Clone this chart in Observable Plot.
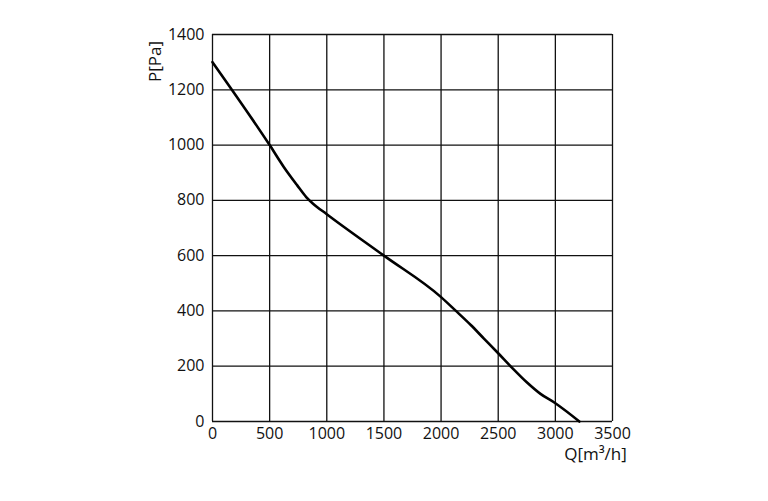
<!DOCTYPE html>
<html>
<head>
<meta charset="utf-8">
<script src="https://cdn.jsdelivr.net/npm/d3@7"></script>
<script src="https://cdn.jsdelivr.net/npm/@observablehq/plot@0.6"></script>
<style>
  html, body { margin: 0; padding: 0; background: #fff; }
  svg { display: block; }
</style>
</head>
<body>
<div id="chart"></div>
<script>
const flowQ = [0, 500, 625, 740, 820, 880, 1000, 1500, 2000, 2125, 2260, 2375, 2500, 2620, 2750, 2870, 3000, 3210];
const pressureP = [1300, 1000, 920, 855, 812, 788, 750, 600, 450, 402, 349, 300, 247, 195, 142, 100, 66, 0];
const xTicks = [0, 500, 1000, 1500, 2000, 2500, 3000, 3500];
const yTicks = [0, 200, 400, 600, 800, 1000, 1200, 1400];
const xLabel = "Q[m³/h]";
const yLabel = "P[Pa]";

const curve = flowQ.map((q, i) => ({q, p: pressureP[i]}));

const chart = Plot.plot({
  width: 768,
  height: 501,
  marginLeft: 212,
  marginRight: 156,
  marginTop: 34,
  marginBottom: 80,
  style: {fontFamily: "'Open Sans', sans-serif", fontSize: "16px", color: "#111", background: "#fff"},
  x: {domain: [0, 3500]},
  y: {domain: [0, 1400]},
  marks: [
    Plot.gridX(xTicks, {stroke: "#111", strokeOpacity: 1, strokeWidth: 1.3}),
    Plot.gridY(yTicks, {stroke: "#111", strokeOpacity: 1, strokeWidth: 1.3}),
    Plot.axisX(xTicks, {tickSize: 0, tickPadding: 6, label: null, fontSize: 16, fill: "#111", tickFormat: d => String(d)}),
    Plot.axisY(yTicks, {tickSize: 0, tickPadding: 8, label: null, fontSize: 16, fill: "#111", tickFormat: d => String(d)}),
    Plot.line(curve, {x: "q", y: "p", stroke: "#000", strokeWidth: 2.6, curve: "monotone-x"}),
    Plot.text([yLabel], {frameAnchor: "top-left", text: d => d, dx: -64, dy: 27, rotate: -90, textAnchor: "middle", fontSize: 17, fill: "#111"}),
    Plot.text([xLabel], {frameAnchor: "bottom-right", text: d => d, dx: -17, dy: 38, textAnchor: "middle", fontSize: 17, fill: "#111"})
  ]
});
document.getElementById("chart").appendChild(chart);
</script>
</body>
</html>
